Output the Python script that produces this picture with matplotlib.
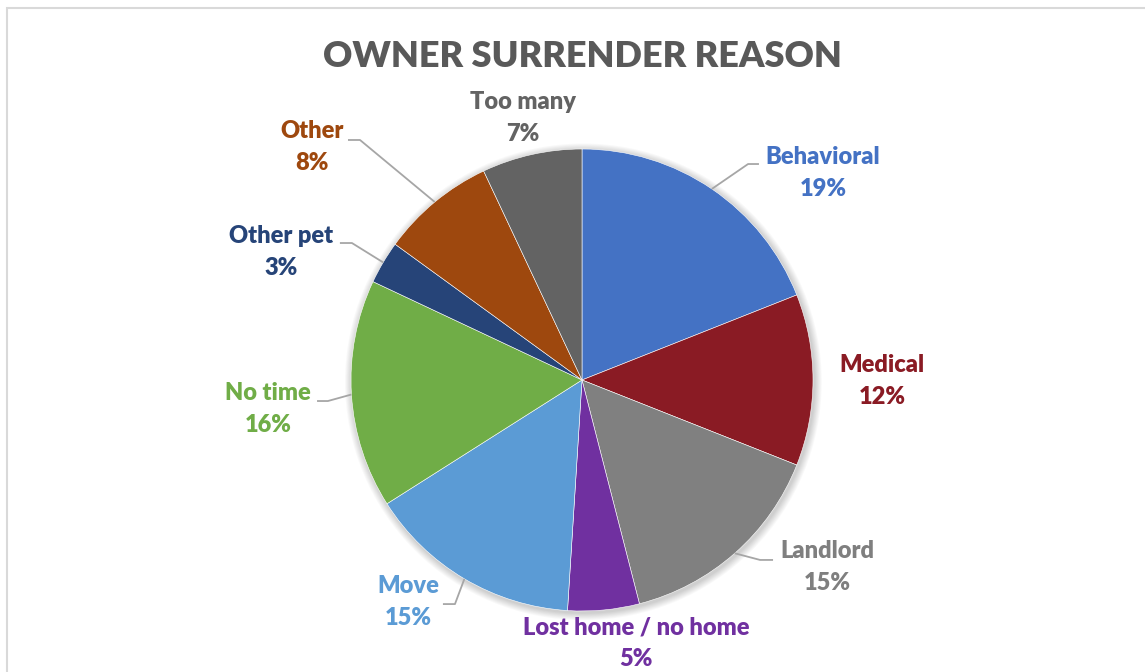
import numpy as np
import matplotlib
matplotlib.use("Agg")
import matplotlib.pyplot as plt
from matplotlib.patches import Circle, Rectangle

# data
reasons = ["Behavioral", "Medical", "Landlord", "Lost home / no home", "Move",
           "No time", "Other pet", "Other", "Too many"]
shares = [19, 12, 15, 5, 15, 16, 3, 8, 7]
slice_colors = ["#4472C4", "#8A1B24", "#808080", "#7030A0", "#5B9BD5",
                "#70AD47", "#264478", "#9E480E", "#636363"]
text_colors = ["#4472C4", "#8A1B24", "#7F7F7F", "#7030A0", "#5B9BD5",
               "#70AD47", "#264478", "#9E480E", "#636363"]

# label layout, in pie-radius units
label_pos = [(1.043, 0.896), (1.299, -0.004), (1.061, -0.810), (0.234, -1.139),
             (-0.753, -0.961), (-1.359, -0.126), (-1.303, 0.554), (-1.169, 1.009),
             (-0.255, 1.134)]
# leader lines: (elbow, end) or None
leaders = [((0.719, 0.935), (0.766, 0.935)), None,
           ((0.771, -0.779), (0.827, -0.779)), None,
           ((-0.550, -0.970), (-0.602, -0.970)),
           ((-1.100, -0.091), (-1.147, -0.091)),
           ((-0.996, 0.593), (-1.048, 0.593)),
           ((-0.961, 1.039), (-1.013, 1.039)), None]

plt.rcParams['font.family'] = ['Lato', 'DejaVu Sans']

W, H = 1145, 672
CX, CY, R = 582, 380, 231

fig = plt.figure(figsize=(W / 100, H / 100), dpi=100)
fig.patches.append(Rectangle((6.5 / W, -0.1), 1.2, 1 - 7.5 / H + 0.1,
                             transform=fig.transFigure, fill=False,
                             edgecolor="#D9D9D9", linewidth=1.5))

ax = fig.add_axes([0, 0, 1, 1])

# soft shadow
for i in range(8):
    ax.add_patch(Circle((0.006, -0.008), 1.0 + 0.004 * (i + 1),
                        facecolor="black", alpha=0.025, edgecolor="none", zorder=0))

wedges, _ = ax.pie(shares, colors=slice_colors, startangle=90, counterclock=False,
                   radius=1, center=(0, 0), frame=True,
                   wedgeprops=dict(edgecolor="white", linewidth=0.4))
ax.set_xlim(-CX / R, (W - CX) / R)
ax.set_ylim((CY - H) / R, CY / R)
ax.set_aspect("auto")
ax.axis("off")

for i, w in enumerate(wedges):
    name, pct = reasons[i], shares[i]
    x, y = label_pos[i]
    ax.text(x, y, f"{name}\n{pct}%", ha="center", va="center", fontsize=17,
            fontweight="heavy", color=text_colors[i], linespacing=1.55)
    if leaders[i] is not None:
        mid = np.deg2rad((w.theta1 + w.theta2) / 2)
        sx, sy = np.cos(mid), np.sin(mid)
        (ex, ey), (fx, fy) = leaders[i]
        ax.plot([sx, ex, fx], [sy, ey, fy], color="#A6A6A6", linewidth=1.3,
                solid_capstyle="butt", zorder=3)

fig.text(582.5 / W, 1 - 67 / H, "OWNER SURRENDER REASON", ha="center",
         va="baseline", fontsize=26, fontweight="heavy", color="#595959")

fig.savefig("out.png", dpi=100)
